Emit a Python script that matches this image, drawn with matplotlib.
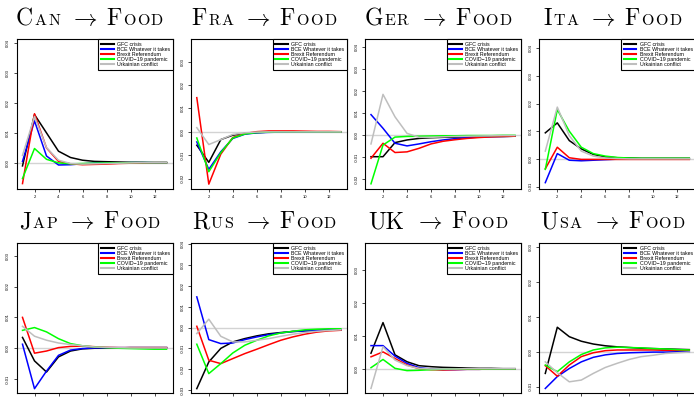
import matplotlib.pyplot as plt
from matplotlib.ticker import MultipleLocator, FormatStrFormatter
import numpy as np

plt.rcParams['mathtext.fontset'] = 'cm'
plt.rcParams['axes.unicode_minus'] = False
plt.rcParams['font.family'] = ['Liberation Sans', 'DejaVu Sans']

horizon = np.arange(1, 14)
events = ["GFC crisis", "BCE Whatever it takes", "Brexit Referendum",
          "COVID\u221219 pandemic", "Urkainian conflict"]
colors = ["black", "blue", "red", "#00FF00", "#BEBEBE"]

# title pieces: (big caps, small caps)
countries = [("C", "AN"), ("F", "RA"), ("G", "ER"), ("I", "TA"),
             ("J", "AP"), ("R", "US"), ("UK", ""), ("U", "SA")]

# impulse responses, order: GFC, BCE, Brexit, COVID, Ukraine
can = [
    [-0.0011, 0.0160, 0.0099, 0.0038, 0.0017, 0.0008, 0.0004, 0.0003, 0.0002, 0.0001, 0.0001, 0.0, 0.0],
    [0.0004, 0.0139, 0.0022, -0.0008, -0.0007, -0.0004, -0.0002, -0.0001, -0.0001, 0.0, 0.0, 0.0, 0.0],
    [-0.0070, 0.0163, 0.0049, 0.0004, -0.0004, -0.0007, -0.0006, -0.0005, -0.0003, -0.0002, -0.0001, 0.0, 0.0],
    [-0.0053, 0.0047, 0.0011, -0.0001, -0.0004, -0.0003, -0.0002, -0.0001, -0.0001, 0.0, 0.0, 0.0, 0.0],
    [0.0024, 0.0154, 0.0050, 0.0008, -0.0003, -0.0005, -0.0004, -0.0003, -0.0002, -0.0001, 0.0, 0.0, 0.0],
]
fra = [
    [-0.0057, -0.0130, -0.0033, -0.0014, -0.0007, -0.0003, -0.0001, 0.0, 0.0, 0.0, 0.0, 0.0, 0.0],
    [-0.0043, -0.0160, -0.0085, -0.0028, -0.0010, -0.0004, -0.0002, -0.0001, 0.0, 0.0, 0.0, 0.0, 0.0],
    [0.0146, -0.0223, -0.0095, -0.0024, -0.0007, 0.0001, 0.0004, 0.0004, 0.0004, 0.0003, 0.0002, 0.0002, 0.0001],
    [-0.0026, -0.0170, -0.0089, -0.0026, -0.0009, -0.0003, -0.0001, 0.0, 0.0, 0.0, 0.0, 0.0, 0.0],
    [0.0018, -0.0054, -0.0033, -0.0011, -0.0004, -0.0001, 0.0, 0.0, 0.0, 0.0, 0.0, 0.0, 0.0],
]
ger = [
    [-0.0097, -0.0097, -0.0033, -0.0021, -0.0014, -0.0011, -0.0009, -0.0008, -0.0007, -0.0006, -0.0005, -0.0005, -0.0004],
    [0.0094, 0.0032, -0.0036, -0.0048, -0.0039, -0.0029, -0.0021, -0.0015, -0.0011, -0.0008, -0.0006, -0.0005, -0.0004],
    [-0.0104, -0.0036, -0.0078, -0.0075, -0.0059, -0.0039, -0.0027, -0.0020, -0.0014, -0.0010, -0.0007, -0.0005, -0.0004],
    [-0.0220, -0.0044, -0.0008, -0.0005, -0.0004, -0.0003, -0.0002, -0.0002, -0.0001, -0.0001, -0.0001, 0.0, 0.0],
    [-0.0039, 0.0186, 0.0084, 0.0009, -0.0009, -0.0009, -0.0007, -0.0005, -0.0004, -0.0003, -0.0002, -0.0001, -0.0001],
]
ita = [
    [0.0094, 0.0130, 0.0066, 0.0036, 0.0016, 0.0007, 0.0004, 0.0003, 0.0002, 0.0002, 0.0002, 0.0002, 0.0002],
    [-0.0086, 0.0019, -0.0005, -0.0007, -0.0005, -0.0003, -0.0001, 0.0, 0.0, 0.0, 0.0, 0.0, 0.0],
    [-0.0036, 0.0042, 0.0004, -0.0002, -0.0002, -0.0002, -0.0002, -0.0002, -0.0002, -0.0002, -0.0002, -0.0002, -0.0002],
    [-0.0038, 0.0178, 0.0100, 0.0042, 0.0019, 0.0010, 0.0005, 0.0003, 0.0002, 0.0002, 0.0002, 0.0002, 0.0002],
    [0.0028, 0.0187, 0.0084, 0.0028, 0.0010, 0.0003, 0.0001, 0.0, 0.0, 0.0, 0.0, 0.0, 0.0],
]
jap = [
    [0.0035, -0.0041, -0.0077, -0.0028, -0.0009, -0.0002, 0.0, 0.0001, 0.0001, 0.0002, 0.0002, 0.0002, 0.0002],
    [0.0013, -0.0131, -0.0074, -0.0023, -0.0006, -0.0001, 0.0001, 0.0002, 0.0002, 0.0002, 0.0002, 0.0002, 0.0002],
    [0.0100, -0.0016, -0.0009, 0.0002, 0.0006, 0.0007, 0.0005, 0.0003, 0.0002, 0.0002, 0.0002, 0.0002, 0.0002],
    [0.0058, 0.0067, 0.0053, 0.0031, 0.0015, 0.0008, 0.0004, 0.0002, 0.0, -0.0001, -0.0002, -0.0003, -0.0003],
    [0.0071, 0.0039, 0.0026, 0.0017, 0.0012, 0.0008, 0.0004, 0.0003, 0.0002, 0.0001, 0.0001, 0.0001, 0.0001],
]
rus = [
    [-0.0293, -0.0165, -0.0100, -0.0069, -0.0053, -0.0040, -0.0030, -0.0024, -0.0019, -0.0016, -0.0014, -0.0013, -0.0013],
    [0.0147, -0.0058, -0.0077, -0.0074, -0.0058, -0.0045, -0.0034, -0.0026, -0.0019, -0.0016, -0.0013, -0.0011, -0.0010],
    [0.0006, -0.0157, -0.0173, -0.0149, -0.0125, -0.0104, -0.0082, -0.0061, -0.0045, -0.0032, -0.0022, -0.0016, -0.0013],
    [-0.0080, -0.0221, -0.0173, -0.0122, -0.0085, -0.0061, -0.0040, -0.0026, -0.0018, -0.0011, -0.0008, -0.0006, -0.0006],
    [-0.0029, 0.0040, -0.0042, -0.0069, -0.0069, -0.0061, -0.0053, -0.0042, -0.0032, -0.0024, -0.0018, -0.0014, -0.0011],
]
uk = [
    [0.0047, 0.0140, 0.0042, 0.0021, 0.0009, 0.0006, 0.0004, 0.0003, 0.0002, 0.0001, 0.0001, 0.0, 0.0],
    [0.0070, 0.0070, 0.0038, 0.0016, 0.0003, -0.0001, -0.0003, -0.0003, -0.0002, -0.0002, -0.0001, -0.0001, -0.0001],
    [0.0036, 0.0051, 0.0031, 0.0011, 0.0, -0.0003, -0.0004, -0.0003, -0.0002, -0.0002, -0.0001, -0.0001, -0.0001],
    [0.0003, 0.0028, 0.0001, -0.0006, -0.0005, -0.0003, -0.0002, -0.0001, -0.0001, -0.0001, -0.0001, -0.0001, -0.0001],
    [-0.0060, 0.0067, 0.0026, 0.0009, 0.0001, -0.0001, -0.0001, -0.0001, 0.0, 0.0, 0.0, 0.0, 0.0],
]
usa = [
    [-0.0062, 0.0070, 0.0043, 0.0030, 0.0022, 0.0017, 0.0014, 0.0012, 0.0010, 0.0009, 0.0008, 0.0007, 0.0006],
    [-0.0105, -0.0071, -0.0048, -0.0029, -0.0016, -0.0009, -0.0005, -0.0003, -0.0002, -0.0001, -0.0001, 0.0, 0.0],
    [-0.0040, -0.0070, -0.0038, -0.0014, -0.0003, 0.0003, 0.0005, 0.0005, 0.0005, 0.0005, 0.0004, 0.0004, 0.0004],
    [-0.0038, -0.0057, -0.0029, -0.0008, 0.0005, 0.0011, 0.0013, 0.0012, 0.0011, 0.0009, 0.0008, 0.0006, 0.0005],
    [-0.0029, -0.0060, -0.0086, -0.0081, -0.0062, -0.0045, -0.0033, -0.0022, -0.0014, -0.0010, -0.0005, -0.0003, -0.0001],
]
responses = [can, fra, ger, ita, jap, rus, uk, usa]
ylims = [(-0.0089, 0.0411), (-0.0245, 0.0395), (-0.0245, 0.0436), (-0.011, 0.0432),
         (-0.0145, 0.034), (-0.0314, 0.0404), (-0.0074, 0.0381), (-0.0118, 0.031)]

W, H = 694, 398
fig = plt.figure(figsize=(W / 100, H / 100), dpi=100)
renderer = fig.canvas.get_renderer()

lefts = [16.5, 190.8, 365, 539.3]
rows = [(39.3, 189.3), (243.3, 393.0)]
baselines = [25, 228]
big, small = 17, 11.5


def caps_title(cap, rest, cx, base):
    # fake small caps: big first letter, smaller rest, then arrow and FOOD
    pieces = [(cap, big, 0)]
    for ch in rest:
        pieces.append((ch, small, 1.5))
    pieces += [(r"$\rightarrow$", big, 9), ("F", big, 9)]
    for ch in "OOD":
        pieces.append((ch, small, 1.5))
    texts, widths = [], []
    for s, size, gap in pieces:
        t = fig.text(0, 1 - base / H, s, fontsize=size, family='cmr10',
                     va='baseline', ha='left')
        texts.append((t, gap))
        widths.append(t.get_window_extent(renderer).width)
    total = sum(widths) + sum(g for _, g in texts[1:])
    x = cx - total / 2
    for (t, gap), w in zip(texts, widths):
        x += gap
        t.set_x(x / W)
        x += w


for i, (name, data) in enumerate(zip(countries, responses)):
    r, c = divmod(i, 4)
    top, bot = rows[r]
    ax = fig.add_axes([lefts[c] / W, 1 - bot / H, 156 / W, (bot - top) / H])
    ax.axhline(0, color="#D3D3D3", lw=1.0, zorder=1)
    for series, col, lab in zip(data, colors, events):
        ax.plot(horizon, series, color=col, lw=1.1, label=lab, zorder=2)
    ax.set_xlim(0.5, 13.5)
    ax.set_ylim(*ylims[i])
    ax.xaxis.set_major_locator(MultipleLocator(2))
    ax.yaxis.set_major_locator(MultipleLocator(0.01))
    ax.yaxis.set_major_formatter(FormatStrFormatter('%.2f'))
    ax.tick_params(length=2, width=0.5, labelsize=3, pad=2)
    ax.tick_params(axis='y', labelrotation=90, pad=2.5)
    if r == 1:
        # the bottom row's x labels fall below the cropped picture
        ax.tick_params(axis='x', labelbottom=False)
    for lab in ax.get_yticklabels():
        lab.set_va('center')
    for sp in ax.spines.values():
        sp.set_linewidth(0.8)
    leg = ax.legend(loc='upper right', fontsize=3.8, borderaxespad=0, fancybox=False,
                    framealpha=1, edgecolor='black', labelspacing=0.0, borderpad=0.5,
                    handlelength=2.4, handletextpad=0.6)
    leg.get_frame().set_linewidth(0.8)
    for h in leg.get_lines():
        h.set_linewidth(1.5)
    caps_title(name[0], name[1], lefts[c] + 78 - 5, baselines[r])

fig.savefig("out.png", dpi=100)
